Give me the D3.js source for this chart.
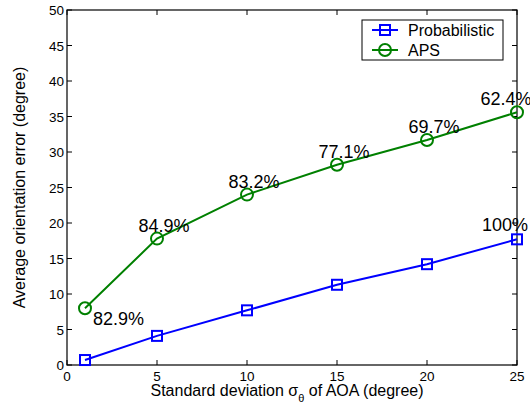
<!DOCTYPE html>
<html>
<head>
<meta charset="utf-8">
<script src="https://cdn.jsdelivr.net/npm/d3@7.9.0/dist/d3.min.js"></script>
<style>
  body { margin: 0; background: #fff; }
  text { font-family: "Liberation Sans", Arial, sans-serif; fill: #000; }
</style>
</head>
<body>
<svg id="chart" width="530" height="406"></svg>
<script>
// data
const sigmas = [1, 5, 10, 15, 20, 25];
const probabilistic = [0.7, 4.1, 7.7, 11.3, 14.2, 17.7];
const aps = [8.0, 17.8, 24.0, 28.2, 31.7, 35.6];
const apsLabels = ["82.9%", "84.9%", "83.2%", "77.1%", "69.7%", "62.4%"];
const probLabel = "100%";
const xTicks = [0, 5, 10, 15, 20, 25];
const yTicks = [0, 5, 10, 15, 20, 25, 30, 35, 40, 45, 50];

const svg = d3.select('#chart');
const plotL = 67, plotR = 517, plotT = 10, plotB = 365;

let x = d3.scaleLinear().domain([0, 25]).range([plotL, plotR]);
let y = d3.scaleLinear().domain([0, 50]).range([plotB, plotT]);

// ticks inside, all four sides (matlab style)
const tickLen = 5;
let g = svg.append('g');
xTicks.forEach(t => {
  g.append('line').attr('x1', x(t)).attr('x2', x(t)).attr('y1', plotB).attr('y2', plotB - tickLen).attr('stroke', '#000');
  g.append('line').attr('x1', x(t)).attr('x2', x(t)).attr('y1', plotT).attr('y2', plotT + tickLen).attr('stroke', '#000');
  g.append('text').attr('x', x(t)).attr('y', plotB + 15.5).attr('text-anchor', 'middle')
    .style('font-size', '13.5px').text(t);
});
yTicks.forEach(t => {
  g.append('line').attr('x1', plotL).attr('x2', plotL + tickLen).attr('y1', y(t)).attr('y2', y(t)).attr('stroke', '#000');
  g.append('line').attr('x1', plotR).attr('x2', plotR - tickLen).attr('y1', y(t)).attr('y2', y(t)).attr('stroke', '#000');
  g.append('text').attr('x', plotL - 3).attr('y', y(t) + 5).attr('text-anchor', 'end')
    .style('font-size', '13.5px').text(t);
});

svg.append('rect').attr('x', plotL).attr('y', plotT).attr('width', plotR - plotL).attr('height', plotB - plotT)
  .attr('fill', 'none').attr('stroke', '#000').attr('stroke-width', 1.2);

// axis labels
let xl = svg.append('text').attr('x', 287).attr('y', 395.5).attr('text-anchor', 'middle')
  .style('font-size', '16px');
xl.append('tspan').text('Standard deviation \u03c3');
xl.append('tspan').attr('dy', 6).style('font-size', '11px').text('\u03b8');
xl.append('tspan').attr('dy', -6).text(' of AOA (degree)');

svg.append('text').attr('transform', `translate(25,${(plotT + plotB) / 2}) rotate(-90)`)
  .attr('text-anchor', 'middle').style('font-size', '16px').text('Average orientation error (degree)');

let line = d3.line().x(d => x(d[0])).y(d => y(d[1]));

const probPts = sigmas.map((s, i) => [s, probabilistic[i]]);
const apsPts = sigmas.map((s, i) => [s, aps[i]]);

svg.append('path').attr('d', line(probPts)).attr('fill', 'none').attr('stroke', '#0000ff').attr('stroke-width', 2);
svg.append('path').attr('d', line(apsPts)).attr('fill', 'none').attr('stroke', '#008000').attr('stroke-width', 2);

probPts.forEach(p => {
  svg.append('rect').attr('x', x(p[0]) - 5).attr('y', y(p[1]) - 5).attr('width', 10).attr('height', 10)
    .attr('fill', 'none').attr('stroke', '#0000ff').attr('stroke-width', 2);
});
apsPts.forEach(p => {
  svg.append('circle').attr('cx', x(p[0])).attr('cy', y(p[1])).attr('r', 6)
    .attr('fill', 'none').attr('stroke', '#008000').attr('stroke-width', 2);
});

// percentage annotations
apsPts.forEach((p, i) => {
  let t = svg.append('text').style('font-size', '18px').text(apsLabels[i]);
  if (i === 0) {
    t.attr('x', x(p[0]) + 8).attr('y', y(p[1]) + 17);
  } else if (i === apsPts.length - 1) {
    // last one pulled left so it stays on the page
    t.attr('x', x(p[0]) - 11).attr('y', y(p[1]) - 7).attr('text-anchor', 'middle');
  } else {
    t.attr('x', x(p[0]) + 7).attr('y', y(p[1]) - 7).attr('text-anchor', 'middle');
  }
});
let last = probPts[probPts.length - 1];
svg.append('text').style('font-size', '18px').attr('x', x(last[0]) - 12).attr('y', y(last[1]) - 8)
  .attr('text-anchor', 'middle').text(probLabel);

// legend
let lg = svg.append('g');
lg.append('rect').attr('x', 362).attr('y', 20).attr('width', 141).attr('height', 40)
  .attr('fill', '#fff').attr('stroke', '#000');
[['Probabilistic', '#0000ff', 'square'], ['APS', '#008000', 'circle']].forEach((d, i) => {
  let cy = 30 + i * 20;
  lg.append('line').attr('x1', 372).attr('x2', 398).attr('y1', cy).attr('y2', cy).attr('stroke', d[1]).attr('stroke-width', 2);
  if (d[2] === 'square') {
    lg.append('rect').attr('x', 380).attr('y', cy - 5).attr('width', 10).attr('height', 10)
      .attr('fill', 'none').attr('stroke', d[1]).attr('stroke-width', 2);
  } else {
    lg.append('circle').attr('cx', 385).attr('cy', cy).attr('r', 6)
      .attr('fill', 'none').attr('stroke', d[1]).attr('stroke-width', 2);
  }
  lg.append('text').attr('x', 408).attr('y', cy + 6).style('font-size', '16px').text(d[0]);
});
</script>
</body>
</html>
